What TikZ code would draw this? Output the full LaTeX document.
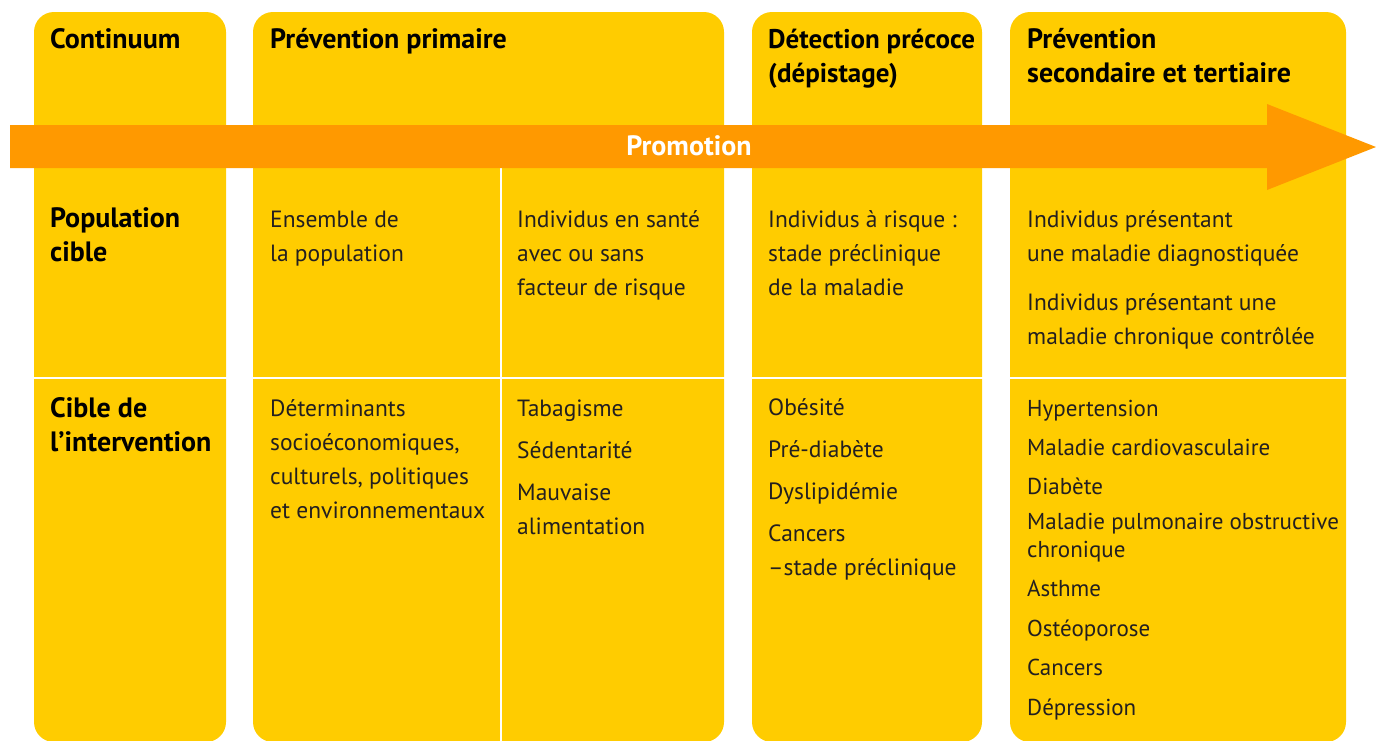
\documentclass[tikz,border=0pt]{standalone}
\usepackage{fontspec}
\setmainfont{PT Sans}
\usepackage{xcolor}
\usepackage{tikz}
\usetikzlibrary{positioning}

\definecolor{jaune}{HTML}{FFCC00}
\definecolor{fleche}{HTML}{FF9900}
\definecolor{encre}{HTML}{231F20}
\newcommand{\celltext}[1]{\begin{tabular}[t]{@{}l@{}}#1\end{tabular}}

\begin{document}
\begin{tikzpicture}[x=1pt,y=-1pt,
    head/.style={anchor=base west, inner sep=0pt, text=black, font=\fontsize{28}{34}\selectfont\bfseries},
    body/.style={anchor=base west, inner sep=0pt, text=encre, font=\fontsize{23.5}{34}\selectfont},
    tight/.style={body, font=\fontsize{23}{28}\selectfont}]
  \tikzstyle{colonne}=[fill=jaune, rounded corners=20pt]
  \tikzstyle{filet}=[draw=white, line width=2.5pt]
  \useasboundingbox (0,0) rectangle (1376,740);

  % colonnes
  \path[colonne] (34,12) rectangle (226,742);
  \path[colonne] (253,12) rectangle (724,742);
  \path[colonne] (752,12) rectangle (982,742);
  \path[colonne] (1010,12) rectangle (1346,742);
  \draw[filet] (20,378) -- (1360,378);
  \draw[filet] (501,168) -- (501,742);

  % fleche
  \fill[fleche] (10,125) -- (1267,125) -- (1267,104) -- (1376,147)
    -- (1267,190) -- (1267,168) -- (10,168) -- cycle;
  \node[font=\fontsize{28}{30}\selectfont\bfseries, text=white] (promo) at (689,146) {Promotion};

  % en-tetes
  \node[head] (continuum) at (50,48) {Continuum};
  \node[head] (primaire) at (270,48) {Prévention primaire};
  \node[head, font=\fontsize{27}{34}\selectfont\bfseries] (depistage) at (768,48) {\celltext{Détection précoce\\(dépistage)}};
  \node[head] (tertiaire) at (1027,48) {\celltext{Prévention\\secondaire et tertiaire}};
  \node[head] (popcible) at (50,227) {\celltext{Population\\cible}};
  \node[head] (cibleint) at (50,417) {\celltext{Cible de\\l’intervention}};

  % population cible
  \node[body] (ensemble) at (270,227) {\celltext{Ensemble de\\la population}};
  \node[body] (sante) at (517,227) {\celltext{Individus en santé\\avec ou sans\\facteur de risque}};
  \node[body] (risque) at (768,227) {\celltext{Individus à risque :\\stade préclinique\\de la maladie}};
  \node[body] (malades) at (1027,227) {\celltext{Individus présentant\\une maladie diagnostiquée\\[15pt]
    Individus présentant une\\maladie chronique contrôlée}};

  % cible de l'intervention
  \node[body] (determinants) at (270,416) {\celltext{Déterminants\\socioéconomiques,\\culturels, politiques\\et environnementaux}};
  \node[body] (habitudes) at (517,416) {\celltext{Tabagisme\\[8pt]Sédentarité\\[8pt]Mauvaise\\alimentation}};
  \node[body] (precliniques) at (768,415) {\celltext{Obésité\\[8pt]Pré-diabète\\[8pt]Dyslipidémie\\[8pt]Cancers\\–stade préclinique}};
  \node[tight] (chroniques) at (1027,416) {\celltext{Hypertension\\[11pt]Maladie cardiovasculaire\\[11pt]Diabète\\[7pt]
    Maladie pulmonaire obstructive\\chronique\\[11pt]Asthme\\[12pt]Ostéoporose\\[11pt]Cancers\\[12pt]Dépression}};
\end{tikzpicture}
\end{document}
